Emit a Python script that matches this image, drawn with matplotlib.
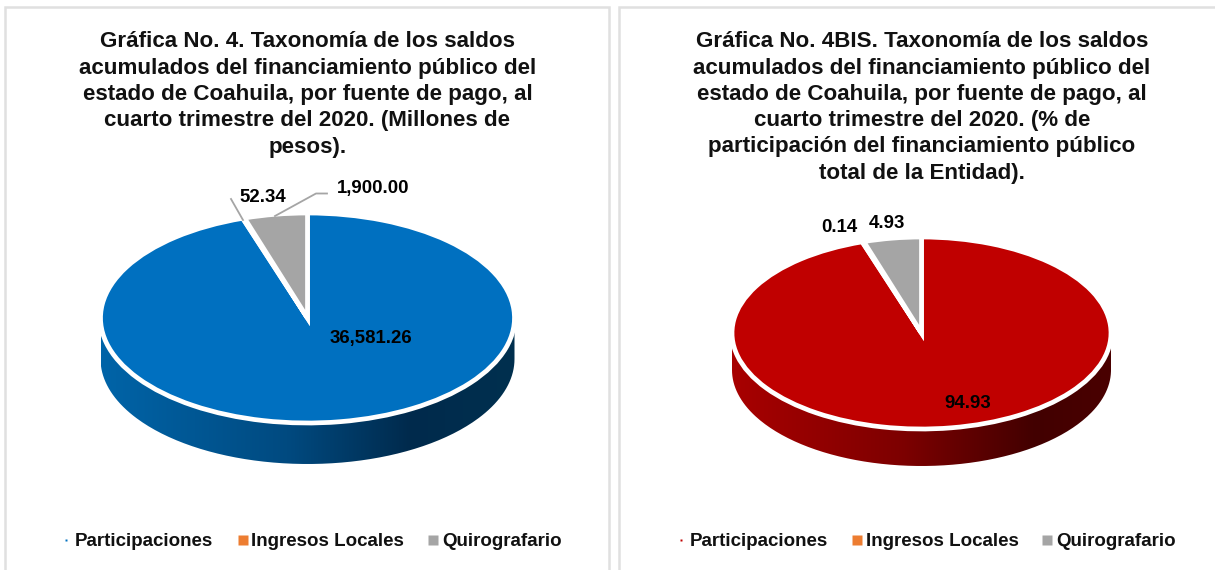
import numpy as np
import matplotlib
matplotlib.use('Agg')
import matplotlib.pyplot as plt
from matplotlib.colors import LinearSegmentedColormap
from matplotlib.patches import PathPatch
from matplotlib.path import Path

plt.rcParams['font.family'] = ['Liberation Sans', 'DejaVu Sans']

categories = ['Participaciones', 'Ingresos Locales', 'Quirografario']
saldos = [36581.26, 52.34, 1900.00]
saldos_labels = ['36,581.26', '52.34', '1,900.00']
porcentajes = [94.93, 0.14, 4.93]
porcentajes_labels = ['94.93', '0.14', '4.93']

title_left = ('Gráfica No. 4. Taxonomía de los saldos\n'
              'acumulados del financiamiento público del\n'
              'estado de Coahuila, por fuente de pago, al\n'
              'cuarto trimestre del 2020. (Millones de\n'
              'pesos).')
title_right = ('Gráfica No. 4BIS. Taxonomía de los saldos\n'
               'acumulados del financiamiento público del\n'
               'estado de Coahuila, por fuente de pago, al\n'
               'cuarto trimestre del 2020. (% de\n'
               'participación del financiamiento público\n'
               'total de la Entidad).')

W, H = 1215, 570
GRAY = '#a5a5a5'
ORANGE = '#ed7d31'
FRAME = '#e0e0e0'

fig = plt.figure(figsize=(W / 100, H / 100), dpi=100, facecolor='white')

# overlay in pixel coordinates for frames, text and the legend
over = fig.add_axes([0, 0, 1, 1], zorder=5)
over.set_xlim(0, W)
over.set_ylim(H, 0)
over.axis('off')


def draw_pie(values, cx, cy, rx, ry, depth, main, wall_colors):
    ax = fig.add_axes([(cx - rx * 1.3) / W, 1 - (cy + ry * 1.3 + depth) / H,
                       rx * 2.6 / W, (ry * 2.6 + depth) / H])
    ax.pie(values, colors=[main, ORANGE, GRAY], startangle=90, counterclock=False,
           radius=1.0, wedgeprops=dict(edgecolor='white', linewidth=3.4))
    d = depth / ry

    # side wall of the disc, a horizontal gradient clipped to its outline
    t = np.linspace(np.pi, 2 * np.pi, 200)
    x = np.concatenate([np.cos(t), np.cos(t[::-1])])
    y = np.concatenate([np.sin(t) - d, np.sin(t[::-1])])
    wall = PathPatch(Path(np.column_stack([x, y])), transform=ax.transData,
                     facecolor='none', edgecolor='none')
    ax.add_patch(wall)
    cmap = LinearSegmentedColormap.from_list('wall', wall_colors)
    grad = np.linspace(0, 1, 256).reshape(1, -1)
    im = ax.imshow(grad, cmap=cmap, extent=[-1, 1, -1 - d, 0], aspect='auto',
                   zorder=0, interpolation='bilinear')
    im.set_clip_path(wall)
    ax.set_aspect('auto')
    ax.set_xlim(-1.3, 1.3)
    ax.set_ylim(-1.3 - d, 1.3)
    return ax


draw_pie(saldos, 307.5, 318, 207, 105, 41, '#0070c0',
         [(0.0, '#0064a8'), (0.45, '#004a80'), (0.75, '#002a4c'), (1.0, '#00304f')])
draw_pie(porcentajes, 921.5, 333, 189.5, 96, 37, '#c00000',
         [(0.0, '#a80000'), (0.45, '#7d0000'), (0.8, '#420000'), (1.0, '#4a0000')])

# panel frames
for xs, ys in [([5, 5, 609, 609], [H, 7, 7, H]), ([619, 619, W], [H, 7, 7])]:
    over.plot(xs, ys, color=FRAME, lw=1.8, solid_joinstyle='miter')

title_font = dict(ha='center', va='center', fontsize=16.1, fontweight='bold',
                  color='#111111', linespacing=1.33)
over.text(307.5, 94.5, title_left, **title_font)
over.text(922, 107.5, title_right, **title_font)

# data labels and leader lines
over.plot([231, 243], [199, 220], color=GRAY, lw=1.3)
over.plot([275, 316, 327], [216, 193.5, 193.5], color=GRAY, lw=1.3)
label_font = dict(ha='center', va='center', fontsize=13.4, fontweight='bold', color='black')
over.text(371, 339, saldos_labels[0], **label_font)
over.text(263, 197, saldos_labels[1], **label_font)
over.text(373, 189, saldos_labels[2], **label_font)
over.text(968, 404, porcentajes_labels[0], **label_font)
over.text(839, 228, porcentajes_labels[1], **label_font)
over.text(887, 224, porcentajes_labels[2], **label_font)

# legends
legend_rows = [
    ('#0070c0', [(66, 1.8, 75), (243, 7.6, 251), (433, 7.6, 442)]),
    ('#c00000', [(681, 1.8, 690), (857, 7.6, 866), (1047, 7.6, 1056)]),
]
for main, items in legend_rows:
    for (mx, ms, tx), name, col in zip(items, categories, [main, ORANGE, GRAY]):
        over.plot([mx], [540], marker='s', ms=ms, mec='none', color=col, ls='none')
        over.text(tx, 541, name, ha='left', va='center', fontsize=13.5,
                  fontweight='bold', color='#111111')

fig.savefig('out.png', dpi=100)
